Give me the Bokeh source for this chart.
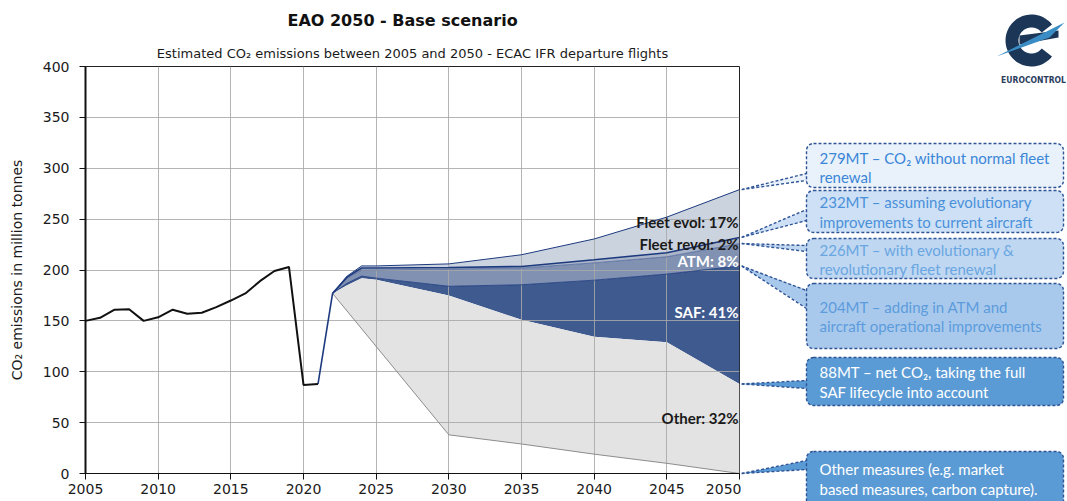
import numpy as np
from bokeh.plotting import figure
from bokeh.layouts import row
from bokeh.models import Range1d, FixedTicker, Title, ColumnDataSource
from bokeh.core.properties import value
from bokeh.embed import file_html
from bokeh.resources import INLINE

# ---------------------------------------------------------------------------
# Data (million tonnes of CO2, ECAC IFR departures)
# ---------------------------------------------------------------------------
hist_years = [2005, 2006, 2007, 2008, 2009, 2010, 2011, 2012, 2013, 2014,
              2015, 2016, 2017, 2018, 2019, 2020, 2021]
hist_co2 = [150, 153, 161, 161.5, 150, 153.5, 161, 157, 158, 163.5,
            170, 177, 189, 199, 203, 87, 88]

scen_years = [2022, 2023, 2024, 2025, 2030, 2035, 2040, 2045, 2050]
co2_no_renewal = [177, 194, 204, 204, 206, 215, 230.5, 252, 279]
co2_evolutionary = [177, 193, 202, 202, 202.5, 203.5, 210, 217, 232]
co2_revolutionary = [177, 192, 200, 200, 201, 202, 207, 213, 226]
co2_atm_ops = [177, 187, 194, 192, 184, 185.5, 190, 196, 204]
co2_net_saf = [177, 185, 192, 190.5, 175, 151, 134.5, 129, 88]

other_years = [2022, 2030, 2035, 2040, 2045, 2050]
co2_other_measures = [177, 38, 29, 19, 10, 0]

band_names = ["Fleet evol", "Fleet revol", "ATM", "SAF", "Other"]
band_shares = [17, 2, 8, 41, 32]

x_ticks = [2005, 2010, 2015, 2020, 2025, 2030, 2035, 2040, 2045, 2050]
y_ticks = [0, 50, 100, 150, 200, 250, 300, 350, 400]

callout_texts = [
    ("{}MT – CO₂ without normal fleet", "renewal"),
    ("{}MT – assuming evolutionary", "improvements to current aircraft"),
    ("{}MT – with evolutionary &", "revolutionary fleet renewal"),
    ("{}MT – adding in ATM and", "aircraft operational improvements"),
    ("{}MT – net CO₂, taking the full", "SAF lifecycle into account"),
    ("Other measures (e.g. market", "based measures, carbon capture)."),
]
callout_values = [co2_no_renewal[-1], co2_evolutionary[-1], co2_revolutionary[-1],
                  co2_atm_ops[-1], co2_net_saf[-1], co2_other_measures[-1]]

# ---------------------------------------------------------------------------
# Layout constants (page pixels)
# ---------------------------------------------------------------------------
W, H = 1067, 501
FRAME_LEFT, FRAME_RIGHT = 85, 739
FRAME_TOP, FRAME_BOTTOM = 66, 473
MAIN_W = FRAME_RIGHT + 2
Y_MAX = y_ticks[-1]


def to_px(v):
    """Vertical page position of a value on the main chart's y scale."""
    return FRAME_BOTTOM - v * (FRAME_BOTTOM - FRAME_TOP) / Y_MAX


NAVY = "#1d3a7f"
BAND_COLORS = ["#cbd3df", "#aab5ca", "#8091b2", "#3f5a8e"]
OTHER_GREY = "#e3e3e3"

# ---------------------------------------------------------------------------
# Main chart
# ---------------------------------------------------------------------------
p = figure(width=MAIN_W, height=H, title=None,
           x_range=Range1d(x_ticks[0], x_ticks[-1]), y_range=Range1d(y_ticks[0], Y_MAX),
           toolbar_location=None, output_backend="svg",
           min_border_left=FRAME_LEFT, min_border_right=MAIN_W - FRAME_RIGHT,
           min_border_top=FRAME_TOP, min_border_bottom=H - FRAME_BOTTOM,
           background_fill_color="white", border_fill_color="white")
p.frame_align = False

p.add_layout(Title(text="Estimated CO₂ emissions between 2005 and 2050 - ECAC IFR departure flights",
                   align="center", text_font="DejaVu Sans", text_font_size="13px",
                   text_font_style="normal", text_color="#1a1a1a", standoff=12), "above")
p.add_layout(Title(text="EAO 2050 - Base scenario", align="left", offset=202,
                   text_font="DejaVu Sans", text_font_size="16px",
                   text_font_style="bold", text_color="#111111", standoff=15), "above")

p.outline_line_color = "#222222"
p.outline_line_width = 1

# scenario bands (drawn beneath the grid)
stack = [co2_no_renewal, co2_evolutionary, co2_revolutionary, co2_atm_ops, co2_net_saf]
for upper, lower, col in zip(stack[:-1], stack[1:], BAND_COLORS):
    p.varea(x=scen_years, y1=lower, y2=upper, fill_color=col, level="image")

# "other measures" wedge between net-SAF line and the floor line
other_xs = list(scen_years) + other_years[::-1]
other_ys = list(co2_net_saf) + co2_other_measures[::-1]
p.patch(other_xs, other_ys, fill_color=OTHER_GREY, line_color=None, level="image")

# axes and grid
p.xaxis.ticker = FixedTicker(ticks=x_ticks)
p.yaxis.ticker = FixedTicker(ticks=y_ticks)
p.xgrid.ticker = FixedTicker(ticks=x_ticks)
p.ygrid.ticker = FixedTicker(ticks=y_ticks)
for g in (p.xgrid[0], p.ygrid[0]):
    g.grid_line_color = "#a8a8a8"
    g.grid_line_alpha = 0.85
    g.grid_line_width = 1
    g.level = "underlay"
    g.visible = True

for ax in (p.xaxis, p.yaxis):
    ax.major_label_text_font = "DejaVu Sans"
    ax.major_label_text_font_size = "14px"
    ax.major_label_text_color = "#1a1a1a"
    ax.axis_line_color = "#111111"
    ax.major_tick_line_color = "#111111"
    ax.major_tick_in = 0
    ax.major_tick_out = 6
    ax.minor_tick_line_color = None
p.yaxis.axis_line_width = 2
p.yaxis.major_label_standoff = 10
p.xaxis.major_label_standoff = 4
p.yaxis.axis_label = "CO₂ emissions in million tonnes"
p.yaxis.axis_label_text_font = "DejaVu Sans"
p.yaxis.axis_label_text_font_size = "14px"
p.yaxis.axis_label_text_font_style = "normal"
p.yaxis.axis_label_text_color = "#1a1a1a"
p.yaxis.axis_label_standoff = 15

# scenario outlines
p.line(other_years, co2_other_measures, line_color="#8c8c8c", line_width=1)
p.line(scen_years, co2_atm_ops, line_color=NAVY, line_width=1, line_alpha=0.8)
p.line(scen_years, co2_revolutionary, line_color=NAVY, line_width=0.8, line_alpha=0.6)
p.line(scen_years, co2_evolutionary, line_color=NAVY, line_width=1.6)
p.line(scen_years, co2_no_renewal, line_color=NAVY, line_width=1)
p.line([hist_years[-1], scen_years[0]], [hist_co2[-1], co2_no_renewal[0]],
       line_color=NAVY, line_width=1.6)

# historical emissions
p.line(hist_years, hist_co2, line_color="#111111", line_width=2)

# band share labels
label_y = [247, 226, 209, 158.5, 55]
label_colors = ["#1a1a1a", "#1a1a1a", "white", "white", "#1a1a1a"]
lab_src = ColumnDataSource(dict(
    x=[x_ticks[-1]] * len(band_names), y=label_y,
    text=[f"{n}: {s}%" for n, s in zip(band_names, band_shares)],
    color=label_colors))
p.text(x="x", y="y", text="text", source=lab_src, text_color="color",
       text_align="right", text_baseline="middle", x_offset=-1,
       text_font=value("Lato"), text_font_style="bold", text_font_size="15px")

# ---------------------------------------------------------------------------
# Callout panel (page-pixel coordinates, y pointing down)
# ---------------------------------------------------------------------------
q = figure(width=W - MAIN_W, height=H, x_range=Range1d(MAIN_W, W), y_range=Range1d(H, 0),
           x_axis_type=None, y_axis_type=None, toolbar_location=None, output_backend="svg",
           min_border=0, outline_line_color=None, title=None,
           background_fill_color="white", border_fill_color="white")
q.frame_align = False
q.grid.visible = False

box_left, box_right = 806, 1063
box_rows = [(143, 187), (190, 232), (238, 278), (283, 348), (357, 405), (451, 512)]
pointer_base = [(173, 180), (209, 220), (245, 251), (290, 308), (380, 388), (460, 469)]
box_fill = ["#e9f1fb", "#cde0f5", "#bfd7f1", "#a9c9ec", "#5b9bd5", "#5b9bd5"]
box_text = ["#3a86d7", "#4a91da", "#6aa6e1", "#5c9cdd", "white", "white"]
box_edge = "#2f5496"

for (top, bot), (b0, b1), v, fc in zip(box_rows, pointer_base, callout_values, box_fill):
    apex_y = to_px(v)
    q.patch([MAIN_W, box_left + 1, box_left + 1], [apex_y, b0, b1],
            fill_color=fc, line_color=None)
    q.multi_line([[MAIN_W, box_left], [MAIN_W, box_left]], [[apex_y, b0], [apex_y, b1]],
                 line_color=box_edge, line_width=1.4, line_dash="3 2")

q.quad(left=[box_left] * 6, right=[box_right] * 6,
       top=[r[0] for r in box_rows], bottom=[r[1] for r in box_rows],
       fill_color=box_fill, line_color=box_edge, line_width=1.4, line_dash="3 2",
       border_radius=7)

line_centres = [(157, 176), (201, 221), (249, 268), (306, 325), (371, 391), (468, 488)]
tx, ty, tt, tc = [], [], [], []
for (l1, l2), (c1, c2), v, col in zip(callout_texts, line_centres, callout_values, box_text):
    tx += [819, 819]
    ty += [c1, c2]
    tt += [l1.format(int(round(v))), l2]
    tc += [col, col]
q.text(x=tx, y=ty, text=tt, text_color=tc, text_baseline="middle", text_align="left",
       text_font=value("Lato"), text_font_size="15px")

# EUROCONTROL mark
cx, cy = 1031, 40
th = np.radians(np.linspace(38, 322, 60))
ring_x = np.concatenate([cx + 26 * np.cos(th), cx + 13 * np.cos(th[::-1])])
ring_y = np.concatenate([cy - 26 * np.sin(th), cy - 13 * np.sin(th[::-1])])
q.patch(ring_x, ring_y, fill_color="#1c3658", line_color=None)
q.patch([1019, 1058, 1058, 1019], [35, 30, 37, 44], fill_color="#1c3658", line_color=None)
q.patch([996, 1064, 1049], [56, 22, 37], fill_color="#3a8dc4", line_color=None)
q.text(x=[1033], y=[79], text=["EUROCONTROL"], text_align="center", text_baseline="middle",
       text_font=value("DejaVu Sans Condensed"), text_font_size="8.5px",
       text_font_style="bold", text_color="#2a3d5c")

layout = row(p, q)
open("out.html", "w").write(file_html(layout, INLINE))
